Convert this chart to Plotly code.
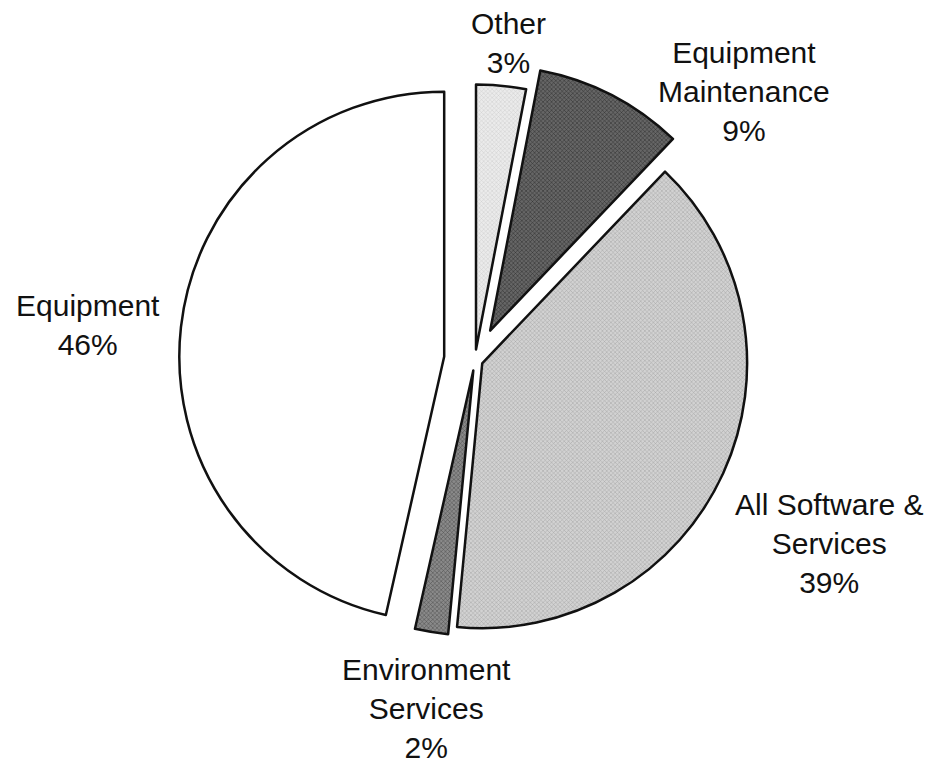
import plotly.graph_objects as go

labels = ["Other", "Equipment Maintenance", "All Software & Services",
          "Environment Services", "Equipment"]
values = [3, 9, 39, 2, 46]
label_text = ["Other<br>3%", "Equipment<br>Maintenance<br>9%",
              "All Software &<br>Services<br>39%",
              "Environment<br>Services<br>2%", "Equipment<br>46%"]
pulls = [0.04, 0.125, 0.03, 0.04, 0.117]
fills = ["#ebebeb", "#666666", "#d2d2d2", "#8a8a8a", "#ffffff"]
fg = ["#cdcdcd", "#2a2a2a", "#a2a2a2", "#4a4a4a", "#ffffff"]
# label centres in pixels (x, y from top)
label_pos = [(508, 43), (744, 92), (829, 543), (426, 708), (88, 325)]

W, H = 931, 763

fig = go.Figure(go.Pie(
    labels=labels, values=values, sort=False, direction="clockwise",
    rotation=0, pull=pulls, textinfo="none", hoverinfo="label+percent",
    marker=dict(colors=fills, line=dict(color="#111111", width=2.5),
                pattern=dict(shape=["x", "x", "x", "x", ""], size=3,
                             solidity=0.3, fgcolor=fg, bgcolor=fills,
                             fgopacity=1)),
    domain=dict(x=[(475 - 298) / W, (475 + 298) / W],
                y=[(H - 360 - 298) / H, (H - 360 + 298) / H]),
    showlegend=False,
))

for (px, py), txt in zip(label_pos, label_text):
    fig.add_annotation(x=px / W, y=1 - py / H, xref="paper", yref="paper",
                       text=txt, showarrow=False, xanchor="center",
                       yanchor="middle", align="center",
                       font=dict(family="Liberation Sans, Arial", size=30,
                                 color="#111111"))

fig.update_layout(width=W, height=H, margin=dict(l=0, r=0, t=0, b=0),
                  paper_bgcolor="white", plot_bgcolor="white")

fig.write_html("out.html", config={"displayModeBar": False},
               post_script="document.body.style.margin='0';"
                           "document.body.style.overflow='hidden';")
